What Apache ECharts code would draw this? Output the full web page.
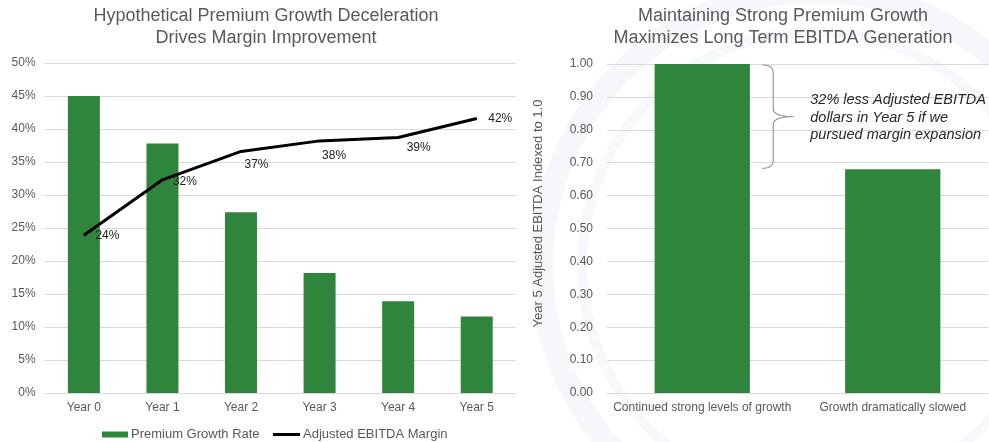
<!DOCTYPE html>
<html>
<head>
<meta charset="utf-8">
<script src="https://cdn.jsdelivr.net/npm/echarts@6/dist/echarts.min.js"></script>
<style>
html,body{margin:0;padding:0;background:#fff;}
#main{width:989px;height:442px;}
</style>
</head>
<body>
<div id="main"></div>
<script>
// ---- Data ----
const years = ['Year 0', 'Year 1', 'Year 2', 'Year 3', 'Year 4', 'Year 5'];
const premiumGrowth = [45.0, 37.8, 27.4, 18.2, 13.9, 11.6];   // %
const ebitdaMargin = [23.9, 32.3, 36.6, 38.2, 38.7, 41.6];     // %
const leftTicks = { min: 0, max: 50, interval: 5 };

const scenarios = ['Continued strong levels of growth', 'Growth dramatically slowed'];
const ebitdaIndexed = [1.00, 0.68];
const rightTicks = { min: 0, max: 1, interval: 0.1 };

const leftTitle = 'Hypothetical Premium Growth Deceleration\nDrives Margin Improvement';
const rightTitle = 'Maintaining Strong Premium Growth\nMaximizes Long Term EBITDA Generation';
const rightAxisName = 'Year 5 Adjusted EBITDA Indexed to 1.0';
const annotationLines = ['32% less Adjusted EBITDA', 'dollars in Year 5 if we', 'pursued margin expansion'];

// ---- Styles (label offsets for line labels) ----
const labelOffsets = [[6,0],[5,2],[-2,13],[-3,15],[3,10],[6,0]];

const GREEN = '#2f853b';
const GRAY = '#595959';
const GRID = '#d9d9d9';
const FONT = 'Liberation Sans, Arial, sans-serif';

const chart = echarts.init(document.getElementById('main'), null, { renderer: 'canvas' });

const lineData = ebitdaMargin.map((v, i) => ({
  value: v,
  label: { offset: labelOffsets[i] }
}));

const legendText = { fontFamily: FONT, fontSize: 13, color: GRAY, padding: [0,0,0,-2] };

const option = {
  backgroundColor: '#ffffff',
  animation: false,
  textStyle: { fontFamily: FONT },
  title: [
    { text: leftTitle, left: 266, top: 5, padding: 0, textAlign: 'center',
      textStyle: { fontFamily: FONT, fontSize: 18, fontWeight: 'normal', color: GRAY, lineHeight: 22 } },
    { text: rightTitle, left: 783, top: 5, padding: 0, textAlign: 'center',
      textStyle: { fontFamily: FONT, fontSize: 18, fontWeight: 'normal', color: GRAY, lineHeight: 22 } }
  ],
  legend: [
    { left: 97, top: 423, itemWidth: 26, itemHeight: 6, selectedMode: false,
      textStyle: legendText,
      data: [{ name: 'Premium Growth Rate', icon: 'rect' }] },
    { left: 268, top: 423, itemWidth: 27, itemHeight: 3, selectedMode: false,
      textStyle: legendText,
      data: [{ name: 'Adjusted EBITDA Margin', icon: 'rect', itemStyle: { color: '#000' } }] }
  ],
  grid: [
    { left: 44.6, right: 473, top: 63, bottom: 49, containLabel: false },
    { left: 607, right: 1, top: 64, bottom: 49, containLabel: false }
  ],
  xAxis: [
    { type: 'category', gridIndex: 0, data: years,
      axisLine: { lineStyle: { color: GRID } }, axisTick: { show: false },
      axisLabel: { color: GRAY, fontSize: 12, fontFamily: FONT, margin: 9 } },
    { type: 'category', gridIndex: 1, data: scenarios,
      axisLine: { lineStyle: { color: GRID } }, axisTick: { show: false },
      axisLabel: { color: GRAY, fontSize: 12, fontFamily: FONT, margin: 9, interval: 0 } }
  ],
  yAxis: [
    { type: 'value', gridIndex: 0, min: leftTicks.min, max: leftTicks.max, interval: leftTicks.interval,
      axisLine: { show: false }, axisTick: { show: false },
      splitLine: { lineStyle: { color: GRID } },
      axisLabel: { color: GRAY, fontSize: 12, fontFamily: FONT, margin: 9, formatter: '{value}%' } },
    { type: 'value', gridIndex: 1, min: rightTicks.min, max: rightTicks.max, interval: rightTicks.interval,
      axisLine: { show: false }, axisTick: { show: false },
      splitLine: { lineStyle: { color: GRID } },
      name: rightAxisName, nameLocation: 'middle', nameGap: 62, nameRotate: 90,
      nameTextStyle: { color: GRAY, fontSize: 13, fontFamily: FONT, padding: [0, 0, 0, 30] },
      axisLabel: { color: GRAY, fontSize: 12, fontFamily: FONT, margin: 14,
        formatter: v => v.toFixed(2) } }
  ],
  series: [
    { name: 'Premium Growth Rate', type: 'bar', xAxisIndex: 0, yAxisIndex: 0,
      data: premiumGrowth, barWidth: 32, itemStyle: { color: GREEN }, z: 2 },
    { name: 'Adjusted EBITDA Margin', type: 'line', xAxisIndex: 0, yAxisIndex: 0,
      data: lineData, symbol: 'circle', symbolSize: 1, showSymbol: true,
      lineStyle: { color: '#000', width: 3 }, itemStyle: { color: '#000' }, z: 5,
      label: { show: true, position: 'right', distance: 5, color: '#222', fontSize: 12, fontFamily: FONT,
        formatter: p => Math.round(p.value) + '%' } },
    { name: 'EBITDA Indexed', type: 'bar', xAxisIndex: 1, yAxisIndex: 1,
      data: ebitdaIndexed, barWidth: '50%', itemStyle: { color: GREEN } }
  ]
};

chart.setOption(option);

// Annotation brace anchored to bar values
const pTop = chart.convertToPixel({ xAxisIndex: 1, yAxisIndex: 1 }, [0, ebitdaIndexed[0]]);
const pBot = chart.convertToPixel({ xAxisIndex: 1, yAxisIndex: 1 }, [1, ebitdaIndexed[1]]);
const bx = pTop[0] + 60;       // brace left x
const yT = pTop[1] + 1, yB = pBot[1] - 1, yM = (yT + yB) / 2;
const bw = 11;
const tip = bx + 31;

function quad(p0, p1, p2, n) {
  const out = [];
  for (let i = 0; i <= n; i++) {
    const t = i / n, u = 1 - t;
    out.push([u*u*p0[0] + 2*u*t*p1[0] + t*t*p2[0], u*u*p0[1] + 2*u*t*p1[1] + t*t*p2[1]]);
  }
  return out;
}
const xs = bx + bw;
const bracePts = [].concat(
  quad([bx, yT], [xs, yT], [xs, yT + 8], 8),
  quad([xs, yM - 8], [xs, yM], [tip, yM], 8),
  quad([tip, yM], [xs, yM], [xs, yM + 8], 8),
  quad([xs, yB - 8], [xs, yB], [bx, yB], 8)
);

chart.setOption({
  graphic: [
    // faint background watermark rings
    { type: 'ring', shape: { cx: 815, cy: 265, r: 285, r0: 262 }, style: { fill: '#f5f7fa' }, z: -10, silent: true },
    { type: 'ring', shape: { cx: 815, cy: 265, r: 238, r0: 228 }, style: { fill: '#f6f8fb' }, z: -10, silent: true },
    { type: 'polyline', shape: { points: bracePts }, style: { fill: null, stroke: '#9a9a9a', lineWidth: 1.2 }, z: 10 },
    { type: 'text', x: tip + 17, y: yM + 1, style: {
        text: annotationLines.join('\n'), fill: '#262626', fontFamily: FONT,
        fontSize: 14.5, fontStyle: 'italic', lineHeight: 17.5, verticalAlign: 'middle', align: 'left' }, z: 10 }
  ]
});
</script>
</body>
</html>
